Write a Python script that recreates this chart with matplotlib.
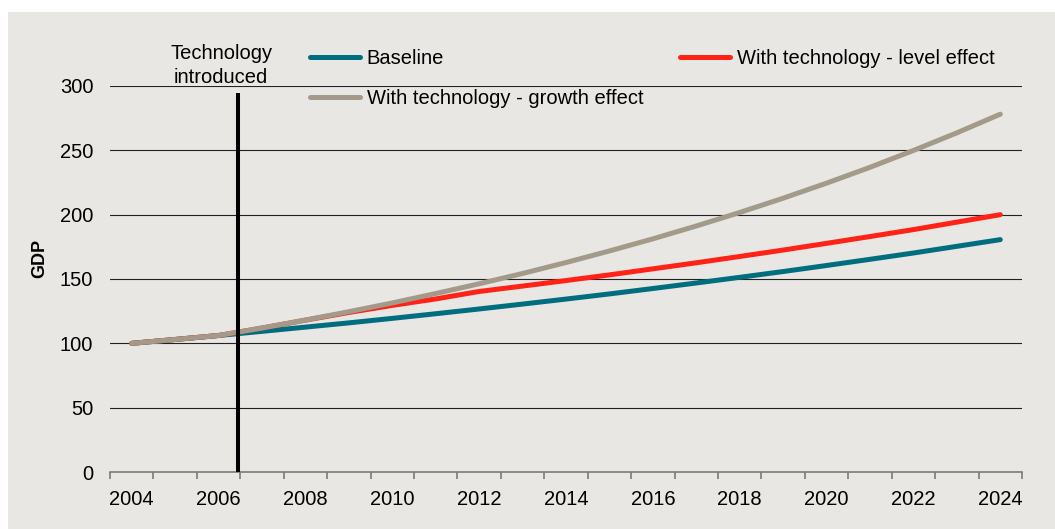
import matplotlib
matplotlib.use("Agg")
import matplotlib.pyplot as plt
from matplotlib.patches import Rectangle
from matplotlib.lines import Line2D

years = list(range(2004, 2025))
baseline = [100.0, 103.0, 106.1, 109.3, 112.6, 115.9, 119.4, 123.0, 126.7, 130.5,
            134.4, 138.4, 142.6, 146.9, 151.3, 155.8, 160.5, 165.3, 170.2, 175.4, 180.6]
level_effect = [100.0, 103.0, 106.1, 111.9, 118.0, 124.0, 129.5, 134.5, 140.3, 144.5,
                148.8, 153.2, 157.9, 162.6, 167.5, 172.5, 177.7, 183.0, 188.4, 194.2, 200.0]
growth_effect = [100.0, 103.0, 106.1, 111.9, 118.1, 124.6, 131.4, 138.7, 146.3, 154.3,
                 162.8, 171.8, 181.2, 191.2, 201.7, 212.8, 224.5, 236.8, 249.9, 263.6, 278.1]
tech_year = 2006.45
y_ticks = [0, 50, 100, 150, 200, 250, 300]
x_labels = list(range(2004, 2025, 2))

BG = "#E9E7E3"
TEAL = "#006E7E"
RED = "#FF2217"
GREY = "#A39A89"
FS = 14.5

plt.rcParams["font.family"] = ["Liberation Sans", "DejaVu Sans"]

W, H = 1055, 529
fig = plt.figure(figsize=(W / 100, H / 100), dpi=100, facecolor="white")
fig.patches.append(Rectangle((8 / W, 0), 1 - 8 / W, 1 - 12 / H,
                             transform=fig.transFigure, facecolor=BG,
                             edgecolor="none", zorder=-10))

ax = fig.add_axes([110 / W, (H - 472) / H, 912 / W, (472 - 86) / H])
ax.patch.set_alpha(0)

ax.set_xlim(2003.5, 2024.5)
ax.set_ylim(0, 300)

for y in y_ticks[1:]:
    ax.axhline(y, color="#222222", lw=0.8, zorder=1)

ax.plot(years, baseline, color=TEAL, lw=3.6, solid_capstyle="round", zorder=3)
ax.plot(years, level_effect, color=RED, lw=3.6, solid_capstyle="round", zorder=4)
ax.plot(years, growth_effect, color=GREY, lw=3.6, solid_capstyle="round", zorder=5)

ax.plot([tech_year, tech_year], [0, 294.5], color="black", lw=2.9, zorder=6,
        solid_capstyle="butt")
ax.text(2006.06, 299.5, "Technology\nintroduced", ha="center", va="bottom",
        fontsize=FS, linespacing=1.3, clip_on=False)

for s in ["top", "right", "left"]:
    ax.spines[s].set_visible(False)
ax.spines["bottom"].set_color("#7a7a7a")
ax.spines["bottom"].set_linewidth(1.2)

ax.set_yticks(y_ticks)
ax.tick_params(axis="y", length=0, labelsize=FS, pad=12)
ax.set_xticks(x_labels)
ax.tick_params(axis="x", which="major", length=0, labelsize=FS, pad=13)
ax.set_xticks([y + 0.5 for y in range(2003, 2025)], minor=True)
ax.tick_params(axis="x", which="minor", length=5, width=1.2, color="#7a7a7a",
               direction="out")

ax.set_ylabel("GDP", fontsize=13, fontweight="bold")
ax.yaxis.set_label_coords((48 - 110) / 912, (472 - 258) / (472 - 86))

entries = [(TEAL, "Baseline", 310, 59),
           (GREY, "With technology - growth effect", 310, 99),
           (RED, "With technology - level effect", 680, 59)]
for color, label, px, py in entries:
    h = Line2D([], [], color=color, lw=3.6, solid_capstyle="round")
    leg = fig.legend([h], [label], loc="center left",
                     bbox_to_anchor=(px / W, 1 - py / H),
                     bbox_transform=fig.transFigure, frameon=False,
                     fontsize=FS, handlelength=2.5, handletextpad=0.32,
                     borderpad=0, borderaxespad=0)

fig.savefig("out.png", dpi=100, facecolor="white")
